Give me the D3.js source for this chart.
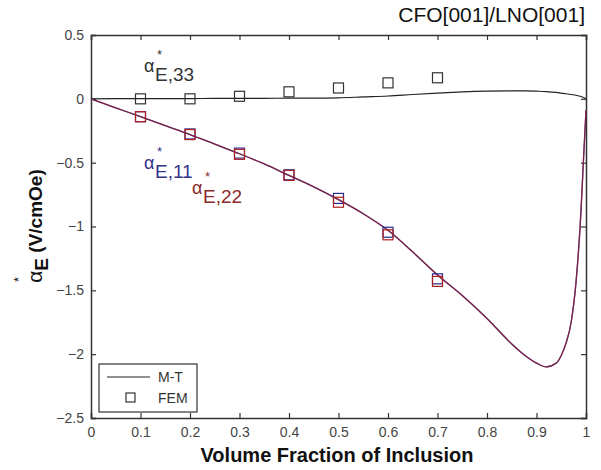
<!DOCTYPE html>
<html>
<head>
<meta charset="utf-8">
<script src="https://cdn.jsdelivr.net/npm/d3@7"></script>
<style>
  body { margin: 0; background: #fff; }
  text { font-family: 'Liberation Sans', Arial, sans-serif; }
</style>
</head>
<body>
<script>
// M-T curves (volume fraction -> alpha)
var mtX   = [0, 0.05, 0.1, 0.15, 0.2, 0.25, 0.3, 0.35, 0.4, 0.45, 0.5, 0.55, 0.6, 0.65, 0.7, 0.75, 0.8, 0.85, 0.88, 0.9, 0.92, 0.94, 0.95, 0.96, 0.97, 0.98, 0.99, 0.995, 1.0]
var mt11  = [0, -0.07, -0.14, -0.21, -0.28, -0.355, -0.43, -0.51, -0.6, -0.69, -0.79, -0.9, -1.03, -1.2, -1.38, -1.54, -1.72, -1.92, -2.02, -2.07, -2.1, -2.07, -2.01, -1.91, -1.75, -1.43, -0.87, -0.47, -0.09]
var mt22  = [0, -0.07, -0.14, -0.21, -0.28, -0.355, -0.43, -0.51, -0.6, -0.69, -0.79, -0.9, -1.03, -1.2, -1.38, -1.54, -1.72, -1.92, -2.02, -2.07, -2.1, -2.07, -2.01, -1.91, -1.75, -1.43, -0.87, -0.47, -0.09]
var mt33  = [0, 0.001, 0.001, 0.002, 0.002, 0.003, 0.003, 0.004, 0.005, 0.006, 0.008, 0.015, 0.022, 0.034, 0.045, 0.054, 0.06, 0.062, 0.062, 0.06, 0.057, 0.05, 0.045, 0.04, 0.034, 0.028, 0.018, 0.01, 0]

// FEM points
var femX   = [0.1, 0.2, 0.3, 0.4, 0.5, 0.6, 0.7]
var fem11  = [-0.14, -0.275, -0.425, -0.595, -0.78, -1.045, -1.41]
var fem22  = [-0.14, -0.28, -0.435, -0.6, -0.81, -1.065, -1.43]
var fem33  = [0, 0, 0.02, 0.055, 0.085, 0.125, 0.165]

var xTicks = [0, 0.1, 0.2, 0.3, 0.4, 0.5, 0.6, 0.7, 0.8, 0.9, 1]
var yTicks = [0.5, 0, -0.5, -1, -1.5, -2, -2.5]

var w = 601
var h = 470
var margin = {top: 35, right: 15, bottom: 52, left: 91}
var width = w - margin.left - margin.right
var height = h - margin.top - margin.bottom

var svg = d3.select('body').append('svg')
  .attr('width', w)
  .attr('height', h)

var chart = svg.append('g')
  .attr('transform', 'translate(' + margin.left + ',' + margin.top + ')')

var x = d3.scaleLinear().domain([0, 1]).range([0, width])
var y = d3.scaleLinear().domain([-2.5, 0.5]).range([height, 0])

var axisColor = '#333'

// axes with inward ticks
var xAxis = d3.axisBottom(x).tickValues(xTicks).tickSize(-5).tickPadding(9)
  .tickFormat(function (d) { return d3.format('')(d) })
var yAxis = d3.axisLeft(y).tickValues(yTicks).tickSize(-5).tickPadding(7)
  .tickFormat(function (d) { return d3.format('')(d) })

chart.append('g')
  .attr('transform', 'translate(0,' + height + ')')
  .call(xAxis)
chart.append('g').call(yAxis)

chart.append('g').call(d3.axisTop(x).tickValues(xTicks).tickSize(-5).tickFormat(''))
chart.append('g').attr('transform', 'translate(' + width + ',0)')
  .call(d3.axisRight(y).tickValues(yTicks).tickSize(-5).tickFormat(''))

chart.selectAll('.domain').attr('stroke', axisColor).attr('stroke-width', 1.5)
chart.selectAll('.tick line').attr('stroke', axisColor).attr('stroke-width', 1.2)
chart.selectAll('.tick text')
  .attr('fill', '#444')
  .style('font-size', '14px')
  .style('font-family', "'Liberation Sans', Arial, sans-serif")

var line = function (ys) {
  return d3.line()
    .x(function (d, i) { return x(mtX[i]) })
    .y(function (d, i) { return y(ys[i]) })
    .curve(d3.curveMonotoneX)(mtX)
}

chart.append('path').attr('d', line(mt33))
  .attr('fill', 'none').attr('stroke', '#222').attr('stroke-width', 1.2)
chart.append('path').attr('d', line(mt11))
  .attr('fill', 'none').attr('stroke', '#2a2a8c').attr('stroke-width', 1.3)
chart.append('path').attr('d', line(mt22))
  .attr('fill', 'none').attr('stroke', '#9a2030').attr('stroke-width', 1.3).attr('stroke-opacity', 0.75)

// FEM squares
var sq = 10
function squares (ys, color) {
  chart.append('g').selectAll('rect')
    .data(femX)
    .enter()
    .append('rect')
    .attr('x', function (d) { return x(d) - sq / 2 })
    .attr('y', function (d, i) { return y(ys[i]) - sq / 2 })
    .attr('width', sq)
    .attr('height', sq)
    .attr('fill', 'none')
    .attr('stroke', color)
    .attr('stroke-width', 1.2)
}
squares(fem33, '#333')
squares(fem11, '#2a2a8c')
squares(fem22, '#b02020')

// annotations
function alphaLabel (px, py, sub, color) {
  var t = svg.append('text').attr('fill', color).style('font-size', '18px')
  t.append('tspan').attr('x', px).attr('y', py).text('α')
  t.append('tspan').attr('x', px + 13).attr('y', py - 13).style('font-size', '13px').text('*')
  t.append('tspan').attr('x', px + 11).attr('y', py + 9).style('font-size', '19px').text('E,' + sub)
}
alphaLabel(144, 72, '33', '#333')
alphaLabel(144, 169, '11', '#33338a')
alphaLabel(192, 194, '22', '#8a2a2a')

// legend
var lg = svg.append('g')
lg.append('rect').attr('x', 99).attr('y', 364).attr('width', 98).attr('height', 48)
  .attr('fill', '#fff').attr('stroke', axisColor).attr('stroke-width', 1.2)
lg.append('line').attr('x1', 107).attr('x2', 150).attr('y1', 377).attr('y2', 377)
  .attr('stroke', '#222').attr('stroke-width', 1.2)
lg.append('rect').attr('x', 126).attr('y', 393).attr('width', 9).attr('height', 9)
  .attr('fill', 'none').attr('stroke', '#333').attr('stroke-width', 1.2)
lg.append('text').attr('x', 158).attr('y', 382).attr('fill', '#333').style('font-size', '14px').text('M-T')
lg.append('text').attr('x', 158).attr('y', 403).attr('fill', '#333').style('font-size', '14px').text('FEM')

// title
svg.append('text').attr('x', 585).attr('y', 22).attr('text-anchor', 'end')
  .style('font-size', '21px').attr('fill', '#111').text('CFO[001]/LNO[001]')

// x label
svg.append('text').attr('x', 337).attr('y', 462).attr('text-anchor', 'middle')
  .style('font-size', '20px').style('font-weight', 'bold').attr('fill', '#111').text('Volume Fraction of Inclusion')

// y label
var yl = svg.append('text').attr('transform', 'translate(42,226) rotate(-90)')
  .attr('text-anchor', 'middle').attr('fill', '#111').style('font-size', '19px').style('font-weight', 'bold')
yl.append('tspan').style('font-weight', 'normal').style('font-size', '21px').text('α')
yl.append('tspan').attr('dy', 6).text('E')
yl.append('tspan').attr('dy', -6).text(' (V/cmOe)')
svg.append('text').attr('transform', 'translate(23,282) rotate(-90)')
  .attr('fill', '#111').style('font-size', '13px').text('*')
</script>
</body>
</html>
